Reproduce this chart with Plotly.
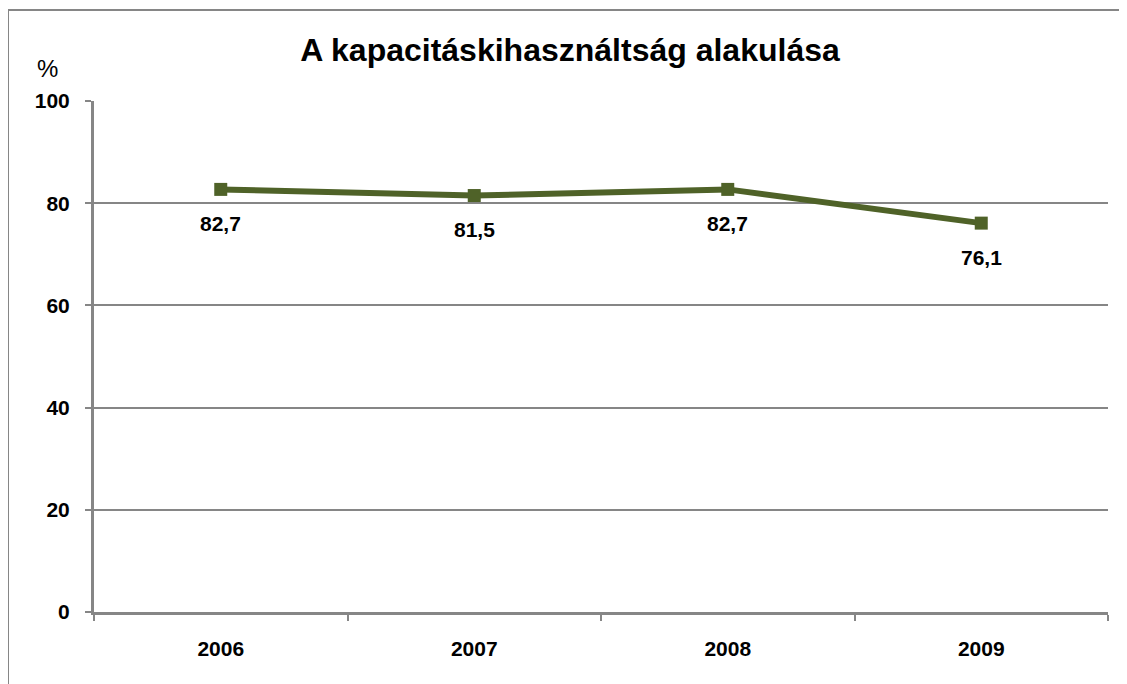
import plotly.graph_objects as go

years = ["2006", "2007", "2008", "2009"]
values = [82.7, 81.5, 82.7, 76.1]
value_labels = ["82,7", "81,5", "82,7", "76,1"]
y_ticks = [0, 20, 40, 60, 80, 100]

LINE_COLOR = "#4F6228"
GRID = "#868686"
FONT = "Liberation Sans, Arial, sans-serif"

# page body has an 8px margin, so the figure is offset by 8px
OFF = 8
W, H = 1127 - OFF, 684 - OFF
L, R, T, B = 94 - OFF, 1127 - 1108, 101 - OFF, 684 - 612
pw, ph = W - L - R, H - T - B

def px_to_paper_x(px):
    return (px - OFF - L) / pw

def px_to_paper_y(py):
    return (H - B - (py - OFF)) / ph

fig = go.Figure()
fig.add_trace(go.Scatter(
    x=years, y=values, mode="lines+markers",
    line=dict(color=LINE_COLOR, width=6),
    marker=dict(symbol="square", size=13, color=LINE_COLOR),
    showlegend=False, hoverinfo="skip",
))

for i, (v, lab) in enumerate(zip(values, value_labels)):
    fig.add_annotation(x=i, y=v, text="<b>" + lab + "</b>", showarrow=False, yshift=-34,
                       font=dict(family=FONT, size=21, color="black"))

fig.add_annotation(xref="paper", yref="paper", x=px_to_paper_x(47), y=px_to_paper_y(68),
                   text="%", showarrow=False, xanchor="center", yanchor="middle",
                   font=dict(family=FONT, size=24, color="black"))

# chart border
fig.add_shape(type="rect", xref="paper", yref="paper",
              x0=px_to_paper_x(8), x1=px_to_paper_x(1150),
              y0=px_to_paper_y(710), y1=px_to_paper_y(10),
              line=dict(color=GRID, width=2), layer="below")

fig.update_layout(
    width=W, height=H,
    margin=dict(l=L, r=R, t=T, b=B),
    paper_bgcolor="white", plot_bgcolor="white",
    title=dict(text="<b>A kapacitáskihasználtság alakulása</b>", x=(570 - OFF) / W, xanchor="center",
               y=1 - (50 - OFF) / H, yanchor="middle",
               font=dict(family=FONT, size=32, color="black")),
    xaxis=dict(
        type="category", range=[-0.5, 3.5], tickson="boundaries",
        showgrid=False, showline=True, linecolor=GRID, linewidth=3,
        ticks="outside", ticklen=6, tickcolor=GRID, tickwidth=2,
        ticklabelstandoff=16,
        tickfont=dict(family=FONT, size=21, color="black", weight="bold"),
    ),
    yaxis=dict(
        range=[0, 100], tickvals=y_ticks, showgrid=True, gridcolor=GRID, gridwidth=2,
        showline=True, linecolor=GRID, linewidth=3, zeroline=False,
        ticks="outside", ticklen=6, tickcolor=GRID, tickwidth=2,
        ticklabelstandoff=11,
        tickfont=dict(family=FONT, size=21, color="black", weight="bold"),
    ),
)

fig.write_html("out.html")
